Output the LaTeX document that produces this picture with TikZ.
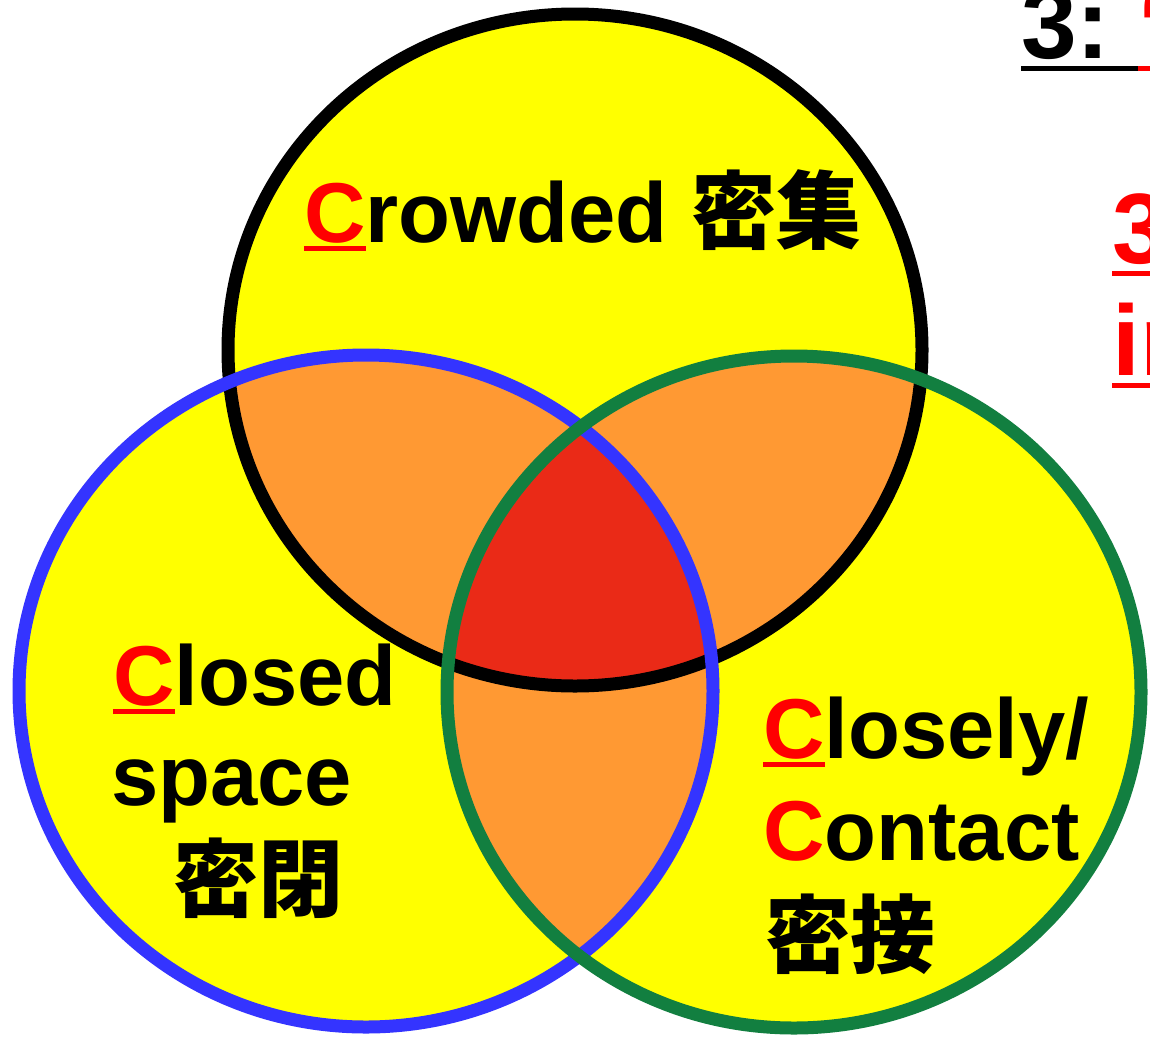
\documentclass[tikz,border=0pt]{standalone}
\usepackage{fontspec}
\setmainfont{Liberation Sans}
\newfontfamily\cjk{Noto Sans CJK JP}
\definecolor{vyellow}{HTML}{FFFF00}
\definecolor{vorange}{HTML}{FF9933}
\definecolor{vred}{HTML}{EA2A17}
\definecolor{vblue}{HTML}{3434FF}
\definecolor{vgreen}{HTML}{127F40}
\definecolor{tred}{HTML}{FF0000}
\newcommand\ulC{\setbox0\hbox{C}\rlap{\textcolor{tred}{\rule[-0.1em]{\wd0}{0.055em}}}\textcolor{tred}{C}}
\newcommand\ulT[1]{\setbox0\hbox{#1}\rlap{\rule[-0.13em]{\wd0}{0.05em}}\box0}
\begin{document}
\begin{tikzpicture}[x=1pt,y=1pt,
  lbl/.style={anchor=base west,inner sep=0pt,font=\bfseries\fontsize{85}{100}\selectfont},
  ttl/.style={anchor=base west,inner sep=0pt,font=\bfseries\fontsize{100}{112}\selectfont},
  ring/.style={line width=13pt}]
\useasboundingbox (0,0) rectangle (1150,-1039);
\begin{scope}
\clip (0,0) rectangle (1150,-1039);
% centres
\coordinate (T) at (575,-350);
\coordinate (L) at (366,-691);
\coordinate (R) at (794,-692);
\def\ell{ellipse [x radius=347, y radius=336]}
% fills
\fill[vyellow] (T) \ell;
\fill[vyellow] (L) \ell;
\fill[vyellow] (R) \ell;
\begin{scope}\clip (T) \ell; \fill[vorange] (L) \ell; \fill[vorange] (R) \ell;\end{scope}
\begin{scope}\clip (L) \ell; \fill[vorange] (R) \ell;\end{scope}
\begin{scope}\clip (T) \ell; \clip (L) \ell; \fill[vred] (R) \ell;\end{scope}
% rings
\draw[ring,black] (T) \ell;
\draw[ring,vblue] (L) \ell;
\draw[ring,vgreen] (R) \ell;
% labels
\node[lbl] (crowded) at (304,-242) {\ulC rowded {\cjk 密集}};
\node[lbl] (closed) at (113,-705) {\ulC losed};
\node[lbl] (space) at (111,-805) {space};
\node[lbl] (mippei) at (173,-910) {\cjk 密閉};
\node[lbl] (closely) at (763,-758) {\ulC losely/};
\node[lbl] (contact) at (763,-860) {\textcolor{tred}{C}ontact};
\node[lbl] (missetsu) at (765,-966) {\cjk 密接};
% title fragments at right edge
\node[ttl] (title) at (1021,-58) {\ulT{3:\ }\textcolor{tred}{\ulT{“3Cs”}}};
\node[ttl,text=tred] (line2) at (1112,-263) {\ulT{3Cs}};
\node[ttl,text=tred] (line3) at (1112,-375) {\ulT{in}};
\end{scope}
\end{tikzpicture}
\end{document}
